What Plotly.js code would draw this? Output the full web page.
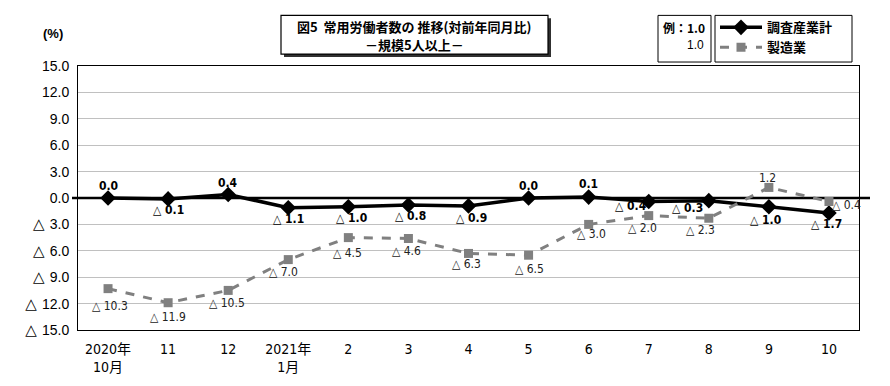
<!DOCTYPE html>
<html><head><meta charset="utf-8">
<script src="https://cdn.plot.ly/plotly-3.0.1.min.js"></script>
<style>html,body{margin:0;padding:0;background:#fff}#chart{width:890px;height:386px}</style>
</head><body><div id="chart"></div>
<script>
// ---- data ----
var tickLabels = ['2020年<br>10月','11','12','2021年<br>1月','2','3','4','5','6','7','8','9','10'];
var seriesNames = ['調査産業計','製造業'];
var industryTotal = [0.0, -0.1, 0.4, -1.1, -1.0, -0.8, -0.9, 0.0, 0.1, -0.4, -0.3, -1.0, -1.7];
var manufacturing = [-10.3, -11.9, -10.5, -7.0, -4.5, -4.6, -6.3, -6.5, -3.0, -2.0, -2.3, 1.2, -0.4];
var yTickVals = [15, 12, 9, 6, 3, 0, -3, -6, -9, -12, -15];
var titleLine1 = '図5  常用労働者数の 推移(対前年同月比)';
var titleLine2 = '－規模5人以上－';

// label offsets (pixels) [dx, dy]
var indOffsets = [[0,12],[0,-11],[0,11],[0,-11],[3,-11],[2,-11],[3,-12],[0,12],[0,13],[-18,-4],[-21,-7],[-3,-13],[-2,-11]];
var mfgOffsets = [[2,-17],[0,-14],[-1,-13],[-5,-12],[-1,-15],[-2,-13],[-2,-11],[1,-14],[3,-10],[-6,-12],[-8,-12],[-1,9],[18,-3]];

function fmt(v){ return v < 0 ? '△ ' + Math.abs(v).toFixed(1) : v.toFixed(1); }
function fmtTick(v){
  return v < 0 ? '<span style="font-family:\'DejaVu Sans\';font-weight:bold;font-size:15px">△ </span>' + Math.abs(v).toFixed(1) : v.toFixed(1);
}

var xs = tickLabels.map(function(_, i){ return i; });
var CJK = 'Noto Sans CJK JP';
var NARROW = 'Liberation Sans Narrow, DejaVu Sans Condensed, Noto Sans CJK JP';
var ARIAL = 'Liberation Sans, Arial, Noto Sans CJK JP';

var traces = [
  {x: xs, y: industryTotal, name: seriesNames[0], type: 'scatter', mode: 'lines+markers',
   line: {color: '#000000', width: 3.5}, marker: {symbol: 'diamond', size: 12, color: '#000000'}},
  {x: xs, y: manufacturing, name: seriesNames[1], type: 'scatter', mode: 'lines+markers',
   line: {color: '#808080', width: 3, dash: 'dash'}, marker: {symbol: 'square', size: 9, color: '#808080'}}
];

// plot area in pixels
var L = 78, R = 859, T = 64, B = 330;
function px(x){ return (x - L) / (R - L); }
function py(y){ return (B - y) / (B - T); }

var ann = [];
industryTotal.forEach(function(v, i){
  ann.push({x: i, y: v, xref: 'x', yref: 'y', text: '<b>' + fmt(v) + '</b>', showarrow: false,
    xshift: indOffsets[i][0], yshift: indOffsets[i][1], xanchor: 'center', yanchor: 'middle',
    font: {family: NARROW, size: 12, color: '#000'}});
});
manufacturing.forEach(function(v, i){
  ann.push({x: i, y: v, xref: 'x', yref: 'y', text: fmt(v), showarrow: false,
    xshift: mfgOffsets[i][0], yshift: mfgOffsets[i][1], xanchor: 'center', yanchor: 'middle',
    font: {family: NARROW, size: 12, color: '#222'}});
});
function paperText(x, y, text, font, xa){
  ann.push({x: px(x), y: py(y), xref: 'paper', yref: 'paper', text: text, showarrow: false,
    xanchor: xa || 'center', yanchor: 'middle', font: font, align: 'center'});
}
paperText(414, 24, '<b>' + titleLine1 + '</b>', {family: CJK, size: 13, color: '#000'});
paperText(414, 42, '<b>' + titleLine2 + '</b>', {family: CJK, size: 13, color: '#000'});
paperText(53, 31, '<b>(%)</b>', {family: ARIAL, size: 13, color: '#000'});
paperText(684, 25, '<b>例：1.0</b>', {family: CJK, size: 12, color: '#000'});
paperText(706, 43, '1.0', {family: ARIAL, size: 12, color: '#000'}, 'right');

var shapes = [
  {type: 'rect', xref: 'paper', yref: 'paper', x0: px(284), x1: px(551), y0: py(55), y1: py(16), fillcolor: '#303030', line: {width: 0}},
  {type: 'rect', xref: 'paper', yref: 'paper', x0: px(281), x1: px(548), y0: py(52), y1: py(13), fillcolor: '#ffffff', line: {color: '#000', width: 1.2}},
  {type: 'rect', xref: 'paper', yref: 'paper', x0: px(658), x1: px(711), y0: py(60), y1: py(13), fillcolor: '#ffffff', line: {color: '#000', width: 1}},
  {type: 'rect', xref: 'paper', yref: 'paper', x0: px(715), x1: px(852), y0: py(60), y1: py(13), fillcolor: '#ffffff', line: {color: '#000', width: 1}, layer: 'below'},
  {type: 'line', xref: 'paper', yref: 'paper', x0: px(72), x1: px(870), y0: 0.5, y1: 0.5, line: {color: '#000', width: 2.5}, layer: 'below'}
];

var layout = {
  width: 890, height: 386,
  margin: {l: L, r: 890 - R, t: T, b: 386 - B, pad: 0},
  paper_bgcolor: '#fff', plot_bgcolor: '#fff',
  showlegend: true,
  legend: {x: px(715), y: py(10), xanchor: 'left', yanchor: 'top', bgcolor: 'rgba(0,0,0,0)', borderwidth: 0,
    font: {family: CJK, size: 13, color: '#000', weight: 'bold'}, tracegroupgap: 0, itemwidth: 42},
  xaxis: {range: [-0.5, 12.5], tickvals: xs, ticktext: tickLabels, showgrid: false, zeroline: false,
    showline: true, linecolor: '#000', linewidth: 1, mirror: true, ticks: '', ticklabelstandoff: 6,
    tickfont: {family: NARROW, size: 14, color: '#000'}, fixedrange: true},
  yaxis: {range: [-15, 15], tickvals: yTickVals, ticktext: yTickVals.map(fmtTick), showgrid: true, gridcolor: '#c0c0c0', gridwidth: 1,
    zeroline: true, zerolinecolor: '#000', zerolinewidth: 2.5, showline: true, linecolor: '#000', linewidth: 1, mirror: true, ticks: '',
    ticklabelstandoff: 5,
    tickfont: {family: ARIAL, size: 14, color: '#000'}, fixedrange: true},
  annotations: ann, shapes: shapes
};

Plotly.newPlot('chart', traces, layout, {displayModeBar: false, staticPlot: true});
</script></body></html>
